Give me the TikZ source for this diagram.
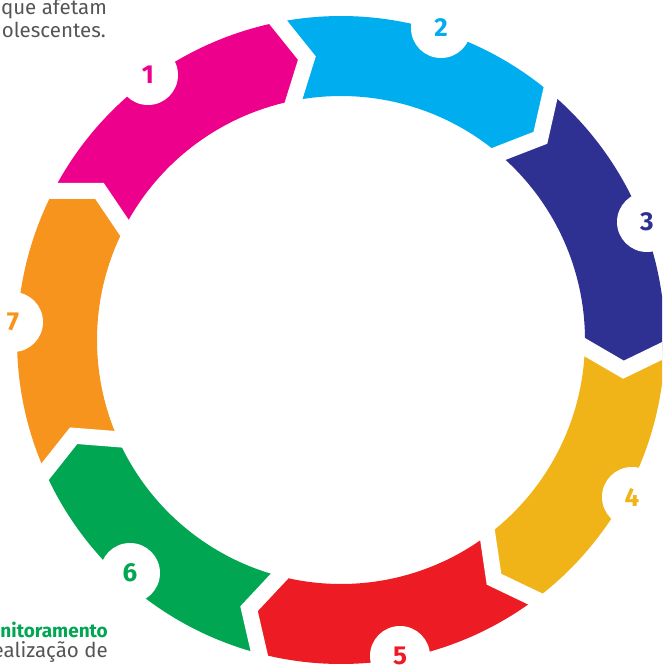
\documentclass[tikz,border=0pt]{standalone}
\usepackage{fontspec}
\setmainfont{Fira Sans}
\usetikzlibrary{calc}
\definecolor{cpink}{HTML}{EC008C}
\definecolor{cblue}{HTML}{00AEEF}
\definecolor{cindigo}{HTML}{2E3192}
\definecolor{cyellow}{HTML}{F0B418}
\definecolor{cred}{HTML}{ED1C24}
\definecolor{cgreen}{HTML}{00A651}
\definecolor{corange}{HTML}{F7941D}
\definecolor{bodygray}{HTML}{555555}
\tikzset{
  numcirc/.style={circle, fill=white, minimum size=60pt, inner sep=0pt, font=\bfseries\fontsize{26}{26}\selectfont},
  gapline/.style={white, line width=16pt, line join=miter, line cap=butt},
  bodytext/.style={text=bodygray, inner sep=0pt, font=\fontsize{20.5}{20.5}\selectfont},
}
\begin{document}
\begin{tikzpicture}[x=1pt,y=1pt]
\useasboundingbox (0,0) rectangle (662,-670);
\clip (0,0) rectangle (662,-670);
\def\Ro{324}\def\Ri{244}\def\Rm{284}\def\dd{4.3}
\begin{scope}[shift={(341,-340)}]
\foreach \c/\s/\e in {cpink/152.6/101.2, cblue/101.2/49.7, cindigo/49.7/-1.7, cyellow/-1.7/-53.1, cred/-53.1/-104.6, cgreen/-104.6/-156.0, corange/-156.0/-207.4}{
  \fill[\c] (\s:\Ro) arc[start angle=\s, end angle=\e, radius=\Ro pt] -- ({\e-\dd}:\Rm) -- (\e:\Ri) arc[start angle=\e, end angle=\s, radius=\Ri pt] -- ({\s-\dd}:\Rm) -- cycle;
}
\foreach \b in {152.6, 101.2, 49.7, -1.7, -53.1, -104.6, -156.0}{
  \path (\b:\Ro) coordinate (o) ({\b-\dd}:\Rm) coordinate (t) (\b:\Ri) coordinate (i);
  \draw[gapline] ($(t)!1.5!(o)$) -- (t) -- ($(t)!1.5!(i)$);
}
\end{scope}
\node[numcirc, text=cpink] (n1) at (148,-75) {1};
\node[numcirc, text=cblue] (n2) at (441,-28) {2};
\node[numcirc, text=cindigo] (n3) at (647,-222) {3};
\node[numcirc, text=cyellow] (n4) at (632,-497) {4};
\node[numcirc, text=cred] (n5) at (400,-656) {5};
\node[numcirc, text=cgreen] (n6) at (130,-573) {6};
\node[numcirc, text=corange] (n7) at (13,-322) {7};
\node[bodytext, anchor=base east] (t1) at (107,-14) {que afetam};
\node[bodytext, anchor=base east] (t2) at (106,-37) {olescentes.};
\node[bodytext, anchor=base east, text=cgreen, font=\bfseries\fontsize{19}{19}\selectfont] (t3) at (108,-637) {nitoramento};
\node[bodytext, anchor=base east] (t4) at (108,-657) {ealização de};
\end{tikzpicture}
\end{document}
